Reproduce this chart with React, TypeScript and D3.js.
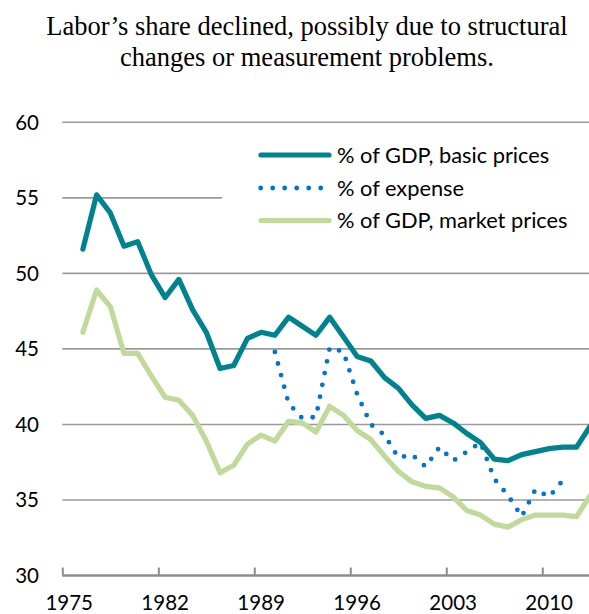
import React, { useEffect, useRef } from "react";
import * as d3 from "d3";

// years 1976-2013
const years = d3.range(1976, 2014);

const basicPrices = [
  51.6, 55.2, 54.0, 51.8, 52.1, 49.9, 48.4, 49.6, 47.6, 46.1,
  43.7, 43.9, 45.7, 46.1, 45.9, 47.1, 46.5, 45.9, 47.1, 45.8,
  44.5, 44.2, 43.1, 42.4, 41.3, 40.4, 40.6, 40.1, 39.4, 38.8,
  37.7, 37.6, 38.0, 38.2, 38.4, 38.5, 38.5, 39.9,
];

const marketPrices = [
  46.1, 48.9, 47.8, 44.7, 44.7, 43.2, 41.8, 41.6, 40.6, 38.9,
  36.8, 37.3, 38.7, 39.3, 38.9, 40.2, 40.1, 39.5, 41.2, 40.6,
  39.6, 39.0, 37.9, 36.9, 36.2, 35.9, 35.8, 35.2, 34.3, 34.0,
  33.4, 33.2, 33.7, 34.0, 34.0, 34.0, 33.9, 35.3,
];

// expense series, 1990-2011
const expenseYears = d3.range(1990, 2012);
const expense = [
  44.8, 41.4, 40.4, 40.5, 45.1, 44.8, 42.0, 40.0, 39.3, 37.8,
  38.0, 37.2, 38.5, 37.6, 38.2, 38.8, 36.4, 35.3, 33.9, 35.7,
  35.2, 36.3,
];

const yTicks = [30, 35, 40, 45, 50, 55, 60];
const xLabels = [1975, 1982, 1989, 1996, 2003, 2010];

const legendItems = [
  { label: "% of GDP, basic prices", color: "#00838F", dotted: false },
  { label: "% of expense", color: "#0073D6", dotted: true },
  { label: "% of GDP, market prices", color: "#C0DA9C", dotted: false },
];

const W = 589;
const H = 614;
const FONT = "Lato, sans-serif";

export default function App() {
  const svgRef = useRef<SVGSVGElement>(null);

  useEffect(() => {
    const svg = d3.select(svgRef.current);
    svg.selectAll("*").remove();

    // category centres at whole years, axis starts half a year before 1975
    const x = d3.scaleLinear().domain([1974.5, 2013.5]).range([62.3, 62.3 + 39 * 13.714]);
    const y = d3.scaleLinear().domain([30, 60]).range([575.5, 122.3]);

    // title
    const title = svg.append("text")
      .attr("text-anchor", "middle")
      .attr("font-family", "'Liberation Serif', 'Times New Roman', serif")
      .attr("font-size", 26.5)
      .attr("fill", "#000");
    title.append("tspan").attr("x", 307).attr("y", 35)
      .text("Labor\u2019s share declined, possibly due to structural");
    title.append("tspan").attr("x", 307).attr("y", 66)
      .text("changes or measurement problems.");

    // gridlines
    svg.append("g")
      .selectAll("line")
      .data(yTicks.filter((t) => t > 30))
      .join("line")
      .attr("x1", x(1974.5))
      .attr("x2", W)
      .attr("y1", (d) => y(d))
      .attr("y2", (d) => y(d))
      .attr("stroke", "#9a9a9a")
      .attr("stroke-width", 1.6);

    // y labels
    svg.append("g")
      .selectAll("text")
      .data(yTicks)
      .join("text")
      .attr("x", 39)
      .attr("y", (d) => y(d))
      .attr("dy", "0.36em")
      .attr("text-anchor", "end")
      .attr("font-family", FONT)
      .attr("font-size", 20.5)
      .attr("fill", "#000")
      .text((d) => d);

    // x axis
    const xAxis = d3.axisBottom(x)
      .tickValues(xLabels.map((d) => d - 0.5))
      .tickSize(0)
      .tickFormat(() => "");
    const gx = svg.append("g")
      .attr("transform", `translate(0,${y(30)})`)
      .call(xAxis);
    gx.select(".domain").remove();
    gx.append("line")
      .attr("x1", x(1974.5))
      .attr("x2", W)
      .attr("stroke", "#8c8c8c")
      .attr("stroke-width", 2.5);
    gx.selectAll(".tick line")
      .attr("y2", -8)
      .attr("stroke", "#8c8c8c")
      .attr("stroke-width", 2);

    svg.append("g")
      .selectAll("text")
      .data(xLabels)
      .join("text")
      .attr("x", (d) => x(d))
      .attr("y", 610)
      .attr("text-anchor", "middle")
      .attr("font-family", FONT)
      .attr("font-size", 20.5)
      .attr("fill", "#000")
      .text((d) => d);

    // lines
    const line = d3.line<[number, number]>()
      .x((d) => x(d[0]))
      .y((d) => y(d[1]));

    const series = [
      { pts: years.map((yr, i) => [yr, marketPrices[i]] as [number, number]), item: legendItems[2] },
      { pts: expenseYears.map((yr, i) => [yr, expense[i]] as [number, number]), item: legendItems[1] },
      { pts: years.map((yr, i) => [yr, basicPrices[i]] as [number, number]), item: legendItems[0] },
    ];

    series.forEach((s) => {
      const p = svg.append("path")
        .datum(s.pts)
        .attr("d", line)
        .attr("fill", "none")
        .attr("stroke", s.item.color)
        .attr("stroke-linejoin", "round");
      if (s.item.dotted) {
        p.attr("stroke-width", 4.8)
          .attr("stroke-linecap", "round")
          .attr("stroke-dasharray", "0 12");
      } else {
        p.attr("stroke-width", 5.2).attr("stroke-linecap", "round");
      }
    });

    // legend
    const lg = svg.append("g");
    lg.append("rect")
      .attr("x", 222).attr("y", 136)
      .attr("width", W - 222).attr("height", 104)
      .attr("fill", "#fff");
    const legY = [155, 188, 220.5];
    legendItems.forEach((it, i) => {
      const row = lg.append("g").attr("transform", `translate(0,${legY[i]})`);
      if (it.dotted) {
        row.append("line")
          .attr("x1", 260.7).attr("x2", 321)
          .attr("stroke", it.color)
          .attr("stroke-width", 4.8)
          .attr("stroke-linecap", "round")
          .attr("stroke-dasharray", "0 12");
      } else {
        row.append("line")
          .attr("x1", 261).attr("x2", 329)
          .attr("stroke", it.color)
          .attr("stroke-width", 5.2)
          .attr("stroke-linecap", "round");
      }
      row.append("text")
        .attr("x", 337)
        .attr("dy", "0.36em")
        .attr("font-family", FONT)
        .attr("font-size", 21.8)
        .attr("fill", "#000")
        .text(it.label);
    });
  }, []);

  return (
    <svg
      ref={svgRef}
      width={W}
      height={H}
      style={{ position: "absolute", left: 0, top: 0, background: "#fff" }}
    ></svg>
  );
}
